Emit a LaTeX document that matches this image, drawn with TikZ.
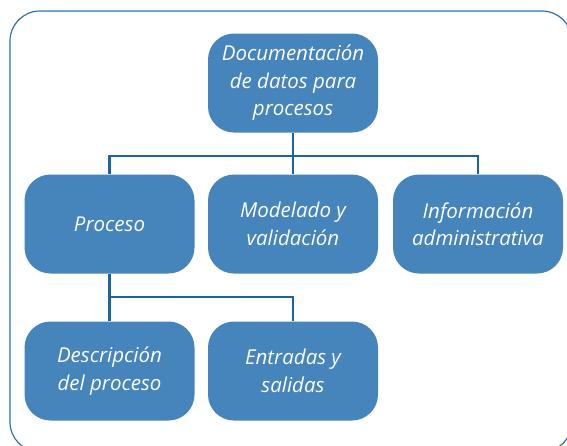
\documentclass[tikz,border=0pt]{standalone}
\usepackage{fontspec}
\setmainfont{Open Sans}
\usepackage{tikz}
\usetikzlibrary{calc}
\usepackage{color}

\definecolor{boxblue}{HTML}{4585BB}
\definecolor{lineblue}{HTML}{1A64A6}
\definecolor{framblue}{HTML}{2C72B2}

\tikzset{
  topic/.style={draw=none, fill=boxblue, rounded corners=26pt, text=white,
    minimum width=170pt, minimum height=99pt, inner sep=0pt, align=center,
    font=\fontsize{20.5}{27.5}\selectfont\itshape},
  link/.style={draw=lineblue, line width=2.4pt}
}

\begin{document}
\begin{tikzpicture}[x=1pt,y=-1pt]
    \useasboundingbox (0,0) rectangle (567,445);
    \begin{scope}
    \clip (0,0) rectangle (567,445);
    \draw[framblue, line width=1.2pt, rounded corners=30pt] (10,11) rectangle (572,452);
    \end{scope}
    \node (Doc) at (293,83) [topic] {Documentación\\de datos para\\procesos};
    \node (Proc) at (109.5,224) [topic] {Proceso};
    \node (Mod) at (293,224) [topic] {Modelado y\\validación};
    \node (Info) at (478,224) [topic] {Información\\administrativa};
    \node (Desc) at (109.5,371) [topic] {Descripción\\del proceso};
    \node (Ent) at (293,371) [topic] {Entradas y\\salidas};
    \coordinate (Bar) at (293,156);
    \coordinate (Sub) at (109.5,297);
    \draw[link]
    (Doc) to (Mod)
    (Proc.north) |- (Bar) -| (Info.north)
    (Proc) to (Desc)
    (Sub) -| (Ent.north);
  \end{tikzpicture}
\end{document}
